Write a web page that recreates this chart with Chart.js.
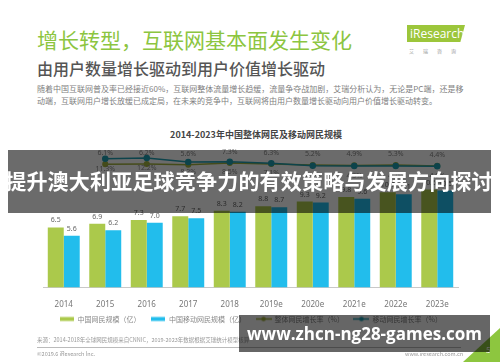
<!DOCTYPE html>
<html>
<head>
<meta charset="utf-8">
<script src="https://cdn.jsdelivr.net/npm/chart.js@4.4.1/dist/chart.umd.min.js"></script>
<style>
  body { margin: 0; width: 500px; height: 362px; overflow: hidden; background: #fff; position: relative;
         font-family: "Noto Sans CJK SC", "Noto Sans", sans-serif; }
  .abs { position: absolute; white-space: nowrap; }
  #title { left: 37px; top: 28px; font-size: 21px; line-height: 22px; color: #8cc540; }
  #subtitle { left: 37px; top: 59px; font-size: 16px; line-height: 18px; color: #555; font-weight: 500; }
  #desc { left: 37px; top: 83px; font-size: 8px; line-height: 11.5px; color: #808080; }
  #logo { left: 407px; top: 25px; width: 58px; height: 17px; background: #9cc63b;
          clip-path: polygon(0 0, 100% 0, 92% 100%, 0 100%); color: #fff; font: 12px/17px "Open Sans", sans-serif; padding-left: 3px; box-sizing: border-box; }
  #logoCn { left: 409px; top: 47px; font-size: 5px; letter-spacing: 9px; color: #999; }
  #chartTitle { left: 0; width: 512px; text-align: center; top: 129px; font-size: 9px; line-height: 11px; font-weight: bold; color: #444; }
  #wrap { position: absolute; left: 0; top: 120px; width: 500px; height: 242px; }
  #source { left: 37px; top: 336px; font-size: 5.5px; color: #999; }
  #rule { left: 37px; top: 347px; width: 424px; height: 0; border-top: 1px solid #bbb; }
  #copy { left: 37px; top: 350px; font-size: 5.5px; color: #999; }
  #site { left: 405px; top: 350px; font-size: 5.5px; color: #999; }
  #corner { left: 463px; top: 328px; width: 37px; height: 34px; background: #8dc63f; clip-path: polygon(100% 0, 100% 100%, 0 100%); }
  #pageNo { left: 486px; top: 344px; font-size: 8px; color: #fff; }
  #band1 { left: 8px; top: 150px; width: 483px; height: 63px; background: rgba(0,0,0,0.58); }
  #band1Text { left: 0; width: 498px; text-align: center; top: 166px; font-size: 21px; line-height: 28px; font-weight: bold; color: #fff; letter-spacing: 0.2px; }
  #band2 { left: 239px; top: 315px; width: 251px; height: 37px; background: rgba(0,0,0,0.6); }
  #band2Text { left: 239px; width: 251px; text-align: center; top: 322px; font: bold 17px/24px "Open Sans", sans-serif; color: #fff; }
</style>
</head>
<body>
<div class="abs" id="title">增长转型，互联网基本面发生变化</div>
<div class="abs" id="subtitle">由用户数量增长驱动到用户价值增长驱动</div>
<div class="abs" id="desc">随着中国互联网普及率已经接近60%，互联网整体流量增长趋缓，流量争夺战加剧，艾瑞分析认为，无论是PC端，还是移<br>动端，互联网用户增长放缓已成定局，在未来的竞争中，互联网将由用户数量增长驱动向用户价值增长驱动转变。</div>
<div class="abs" id="logo">iResearch</div>
<div class="abs" id="logoCn">艾瑞咨询</div>
<div class="abs" id="chartTitle">2014-2023年中国整体网民及移动网民规模</div>
<div id="wrap"><canvas id="chart" width="500" height="242"></canvas></div>
<div class="abs" id="source">来源：2014-2018年全球网民规模来自CNNIC，2019-2023年数据根据艾瑞统计模型核算</div>
<div class="abs" id="rule"></div>
<div class="abs" id="copy">©2019.6 iResearch Inc.</div>
<div class="abs" id="site">www.iresearch.com.cn</div>
<div class="abs" id="corner"></div>
<div class="abs" id="pageNo">5</div>
<div class="abs" id="band1"></div>
<div class="abs" id="band1Text">提升澳大利亚足球竞争力的有效策略与发展方向探讨</div>
<div class="abs" id="band2"></div>
<div class="abs" id="band2Text">www.zhcn-ng28-games.com</div>

<script>
// data (亿 / %)
const years = ['2014', '2015', '2016', '2017', '2018', '2019e', '2020e', '2021e', '2022e', '2023e'];
const netizens = [6.5, 6.9, 7.3, 7.7, 8.3, 8.8, 9.3, 9.8, 10.3, 10.6];
const mobileNetizens = [5.6, 6.2, 7.0, 7.5, 8.2, 8.7, 9.2, 9.6, 10.1, 10.5];
const totalGrowth = [null, 6.1, 6.2, 5.6, 7.3, 6.3, 5.2, 4.9, 5.3, 4.4];
const mobileGrowth = [null, 11.3, 12.2, 8.2, 8.5, 7.1, 4.5, 4.3, 4.2, 4.0];

const GREEN = '#abc94b';
const BLUE = '#22bdec';
const OLIVE = '#a2b23e';
const TEAL = '#1f9fb3';
const LEGEND_PAD = 10;
const LEGEND_FONT = 7;

// small legend icons
function barIcon(color) {
    const c = document.createElement('canvas');
    c.width = 14; c.height = 7;
    const g = c.getContext('2d');
    g.fillStyle = color;
    g.fillRect(0, 1.5, 14, 4);
    return c;
}
function lineIcon(color) {
    const c = document.createElement('canvas');
    c.width = 16; c.height = 7;
    const g = c.getContext('2d');
    g.strokeStyle = color; g.lineWidth = 1.5;
    g.beginPath(); g.moveTo(0, 3.5); g.lineTo(16, 3.5); g.stroke();
    g.fillStyle = color;
    g.beginPath(); g.arc(8, 3.5, 2.2, 0, Math.PI * 2); g.fill();
    return c;
}
const icons = [barIcon(GREEN), barIcon(BLUE), lineIcon(OLIVE), lineIcon(TEAL)];

// value labels on bars and growth points
const valueLabels = {
    id: 'valueLabels',
    afterDatasetsDraw(chart) {
        const ctx = chart.ctx;
        ctx.save();
        ctx.font = '7px "Noto Sans", sans-serif';
        ctx.fillStyle = '#666';
        ctx.textAlign = 'center';
        ctx.textBaseline = 'middle';
        [netizens, mobileNetizens].forEach((arr, d) => {
            chart.getDatasetMeta(d).data.forEach((bar, i) => {
                ctx.fillText(arr[i].toFixed(1), bar.x, bar.y - 7);
            });
        });
        ctx.fillStyle = '#8a8a8a';
        const olive = chart.getDatasetMeta(2).data;
        const teal = chart.getDatasetMeta(3).data;
        totalGrowth.forEach((v, i) => {
            if (v == null) return;
            ctx.fillText(v.toFixed(1) + '%', olive[i].x, olive[i].y - 11);
        });
        mobileGrowth.forEach((v, i) => {
            if (v == null) return;
            ctx.fillText(v.toFixed(1) + '%', teal[i].x, teal[i].y + 10);
        });
        ctx.restore();
    }
};

// pull the legend up closer to the axis labels
const legendShift = {
    id: 'legendShift',
    afterLayout(chart) {
        const lg = chart.legend;
        const dy = 199 - LEGEND_PAD - LEGEND_FONT / 2 - lg.top;
        lg.top += dy;
        lg.bottom += dy;
    }
};

new Chart(document.getElementById('chart'), {
    data: {
        labels: years,
        datasets: [
            { type: 'bar', label: '中国网民规模（亿）', data: netizens, backgroundColor: GREEN,
              categoryPercentage: 0.77, barPercentage: 1, yAxisID: 'y', order: 2 },
            { type: 'bar', label: '中国移动网民规模（亿）', data: mobileNetizens, backgroundColor: BLUE,
              categoryPercentage: 0.77, barPercentage: 1, yAxisID: 'y', order: 2 },
            { type: 'line', label: '整体网民增长率（%）', data: totalGrowth, borderColor: OLIVE, backgroundColor: OLIVE,
              borderWidth: 1.5, pointRadius: 2.3, pointBackgroundColor: OLIVE, yAxisID: 'y2', order: 1 },
            { type: 'line', label: '移动网民增长率（%）', data: mobileGrowth, borderColor: TEAL, backgroundColor: TEAL,
              borderWidth: 1.5, pointRadius: 2.5, pointBackgroundColor: TEAL, yAxisID: 'y2', order: 0 }
        ]
    },
    options: {
        responsive: false,
        animation: false,
        devicePixelRatio: 1,
        layout: { padding: { left: 43, right: 42, top: 29, bottom: 20 } },
        plugins: {
            tooltip: { enabled: false },
            legend: {
                position: 'bottom',
                labels: {
                    usePointStyle: true,
                    pointStyleWidth: 15,
                    padding: LEGEND_PAD,
                    color: '#888',
                    font: { size: LEGEND_FONT, family: '"Noto Sans CJK SC", sans-serif' },
                    generateLabels: chart => Chart.defaults.plugins.legend.labels.generateLabels(chart)
                        .sort((a, b) => a.datasetIndex - b.datasetIndex)
                        .map(item => ({ ...item, pointStyle: icons[item.datasetIndex] }))
                }
            }
        },
        scales: {
            x: {
                grid: { display: false },
                border: { color: '#c8c8c8' },
                ticks: { color: '#777', font: { size: 8, family: '"Noto Sans", sans-serif' }, padding: 5 }
            },
            y: { display: false, min: 0, max: 15 },
            y2: { display: false, min: -115, max: 21 }
        }
    },
    plugins: [valueLabels, legendShift]
});
</script>
</body>
</html>
